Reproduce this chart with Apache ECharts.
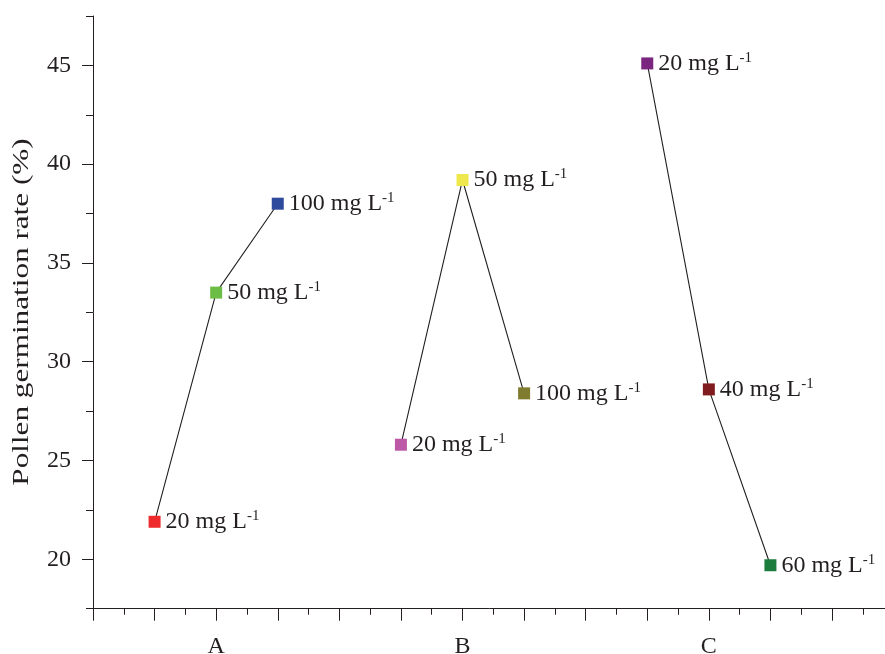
<!DOCTYPE html>
<html>
<head>
<meta charset="utf-8">
<script src="https://cdn.jsdelivr.net/npm/echarts@6/dist/echarts.min.js"></script>
<style>html,body{margin:0;padding:0;background:#fff}#c{width:885px;height:654px}</style>
</head>
<body>
<div id="c"></div>
<script>
// ---- data ----
const categories = ['A', 'B', 'C'];
const categoryCenters = [2, 6, 10];
const doseOffsets = [-1, 0, 1];
const doseLabelsA = ['20 mg L', '50 mg L', '100 mg L'];
const doseLabelsB = ['20 mg L', '50 mg L', '100 mg L'];
const doseLabelsC = ['20 mg L', '40 mg L', '60 mg L'];
const germinationA = [21.9, 33.5, 38.0];
const germinationB = [25.8, 39.2, 28.4];
const germinationC = [45.1, 28.6, 19.7];
const colorsA = ['#ee2a2c', '#6cbd45', '#2e4a9c'];
const colorsB = ['#bd58a6', '#eee84c', '#7f7b2f'];
const colorsC = ['#7a2681', '#801c1f', '#1c7c3e'];
const yTickLabels = [20, 25, 30, 35, 40, 45];
const yTitle = 'Pollen germination rate (%)';

const ink = '#231f20';
const font = "'Liberation Serif', 'Times New Roman', Times, serif";

function makeSeries(idx, labels, values, colors) {
  return {
    type: 'line',
    xAxisIndex: 0, yAxisIndex: 0,
    symbol: 'rect',
    symbolSize: 12,
    lineStyle: { color: ink, width: 1.1 },
    itemStyle: { opacity: 1 },
    emphasis: { disabled: true },
    data: values.map((v, i) => ({
      value: [categoryCenters[idx] + doseOffsets[i], v],
      name: labels[i],
      itemStyle: { color: colors[i] },
      label: {
        show: true, position: 'right', distance: 5,
        formatter: '{a|' + labels[i] + '}{b|-1}',
        rich: {
          a: { fontFamily: font, fontSize: 24, color: ink, lineHeight: 26 },
          b: { fontFamily: font, fontSize: 15, color: ink, verticalAlign: 'top', lineHeight: 26 }
        }
      }
    })),
    z: 3
  };
}

const unit = (608.7 - 16) / 30;
const chart = echarts.init(document.getElementById('c'), null, { renderer: 'canvas' });
chart.setOption({
  animation: false,
  backgroundColor: '#ffffff',
  graphic: [{
    type: 'text',
    x: 22, y: 312,
    rotation: Math.PI / 2,
    scaleX: 1.3,
    silent: true,
    style: {
      text: yTitle,
      font: "24px 'Liberation Serif', 'Times New Roman', serif",
      fill: ink,
      align: 'center',
      verticalAlign: 'middle'
    }
  }],
  grid: [
    { left: 93, right: -8.6, top: 16, bottom: 654 - 608.7, containLabel: false, outerBoundsMode: 'none' },
    { left: 93, right: -8.6, top: 16 - 2.5 * unit, bottom: 654 - (608.7 + 2.5 * unit), containLabel: false, outerBoundsMode: 'none' }
  ],
  xAxis: [
    {
      gridIndex: 0, type: 'value', min: 0, max: 13, interval: 1,
      axisLine: { show: true, onZero: false, lineStyle: { color: ink, width: 1 } },
      axisTick: { show: true, length: 12, lineStyle: { color: ink, width: 1 } },
      minorTick: { show: true, splitNumber: 2, length: 6, lineStyle: { color: ink, width: 1 } },
      splitLine: { show: false },
      minorSplitLine: { show: false },
      axisLabel: {
        show: true, margin: 26, fontFamily: font, fontSize: 24, color: ink,
        formatter: function (v) {
          const k = categoryCenters.indexOf(Math.round(v));
          return (k >= 0 && Math.abs(v - categoryCenters[k]) < 1e-6) ? categories[k] : '';
        }
      }
    },
    { gridIndex: 1, type: 'value', min: 0, max: 13, show: false }
  ],
  yAxis: [
    {
      gridIndex: 0, type: 'value', min: 17.5, max: 47.5, interval: 2.5,
      axisLine: { show: true, onZero: false, lineStyle: { color: ink, width: 1 } },
      axisTick: { show: false },
      axisLabel: { show: false },
      splitLine: { show: false }
    },
    {
      gridIndex: 1, type: 'value', min: 15, max: 50, interval: 5,
      axisLine: { show: false },
      axisTick: { show: true, length: 11, lineStyle: { color: ink, width: 1 } },
      minorTick: { show: true, splitNumber: 2, length: 7, lineStyle: { color: ink, width: 1 } },
      splitLine: { show: false },
      minorSplitLine: { show: false },
      axisLabel: {
        show: true, margin: 22, fontFamily: font, fontSize: 24, color: ink,
        showMinLabel: false, showMaxLabel: false,
        formatter: function (v) { return yTickLabels.indexOf(v) >= 0 ? String(v) : ''; }
      }
    }
  ],
  series: [
    makeSeries(0, doseLabelsA, germinationA, colorsA),
    makeSeries(1, doseLabelsB, germinationB, colorsB),
    makeSeries(2, doseLabelsC, germinationC, colorsC)
  ]
});
</script>
</body>
</html>
